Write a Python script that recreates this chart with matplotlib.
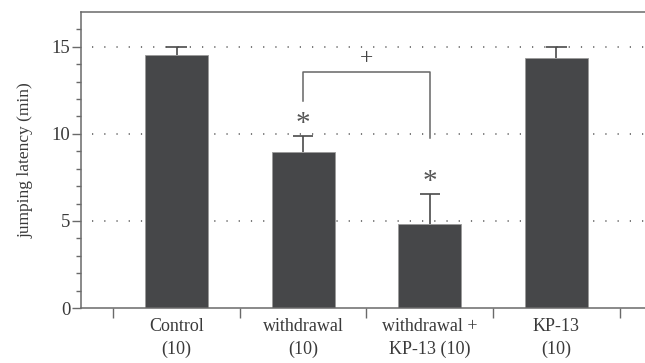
import matplotlib
matplotlib.use("Agg")
import matplotlib.pyplot as plt
import numpy as np

plt.rcParams['font.family'] = ['Liberation Serif', 'DejaVu Serif']

categories = ["Control\n(10)", "withdrawal\n(10)", "withdrawal +\nKP-13 (10)", "KP-13\n(10)"]
means = [14.55, 8.95, 4.82, 14.35]
errors = [0.45, 0.92, 1.73, 0.62]
sig_marks = ["", "*", "*", ""]

ink = "#3a3a3a"
bar_color = "#464749"

fig = plt.figure(figsize=(6.45, 3.63), dpi=100)
ax = fig.add_axes([0.1256, 0.1515, 0.8744, 0.8155])

x = np.arange(len(categories))
means_arr = np.array(means)
tops = means_arr + np.array(errors)
ax.set_xlim(-0.755, 3.70)
ax.set_ylim(0, 17)

# dotted reference lines behind the bars
for yv in (5, 10, 15):
    ax.hlines(yv, -0.67, 3.70, colors="#555555", linestyles=(0, (0.8, 7.2)),
              linewidth=1.1, zorder=0)

ax.bar(x, means, width=0.5, color=bar_color, edgecolor="#9a9a9a",
       linewidth=0.6, zorder=2)

# upward-only error bars with a cap on the upper end
ax.vlines(x, means_arr, tops, colors="#4a4a4a", linewidth=1.2, zorder=3)
ax.hlines(tops, x - 0.08, x + 0.08, colors="#4a4a4a", linewidth=1.2, zorder=3)

# significance asterisks
for xi, t, s in zip(x, tops, sig_marks):
    if s:
        ax.text(xi, t - 0.05, s, ha="center", va="bottom", fontsize=21,
                color="#555555")

# comparison bracket between withdrawal groups
ax.plot([1, 1, 2, 2], [11.87, 13.57, 13.57, 9.75], color="#666666",
        linewidth=1.1, zorder=3)
ax.text(1.5, 13.75, "+", ha="center", va="bottom", fontsize=17, color="#444444")

# axes styling
for side in ("left", "bottom", "top"):
    ax.spines[side].set_color("#6a6a6a")
    ax.spines[side].set_linewidth(1.1)
ax.spines["right"].set_visible(False)

ax.set_yticks([0, 5, 10, 15])
ax.set_yticks(np.arange(0, 17, 1), minor=True)
ax.tick_params(axis="y", which="major", length=6.5, width=1, color="#6a6a6a",
               labelsize=13.5, labelcolor=ink, pad=1)
ax.tick_params(axis="y", which="minor", length=3.6, width=1, color="#6a6a6a")

ax.set_xticks(x)
ax.set_xticklabels(categories, linespacing=1.45)
ax.set_xticks(np.arange(-0.5, 4.0, 1), minor=True)
ax.tick_params(axis="x", which="major", length=0, labelsize=13, labelcolor=ink, pad=7)
ax.tick_params(axis="x", which="minor", length=7.2, width=1, color="#6a6a6a")

ax.set_ylabel("jumping latency (min)", fontsize=12.5, color=ink, labelpad=13)

fig.savefig("out.png", dpi=100)
